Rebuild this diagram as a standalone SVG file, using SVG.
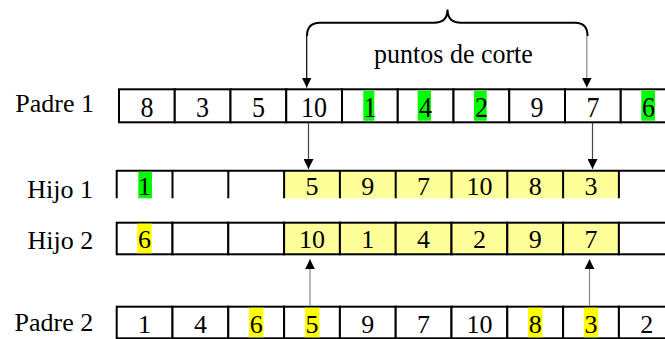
<svg xmlns="http://www.w3.org/2000/svg" width="665" height="339" viewBox="0 0 665 339">
<style>
.cell{fill:#fff;stroke:#000;stroke-width:2}
.pale{fill:#ffff99;stroke:#000;stroke-width:2}
.num{font-family:"Liberation Serif",serif;font-size:26px;text-anchor:middle;fill:#000}
.lbl{font-family:"Liberation Serif",serif;font-size:26px;text-anchor:end;fill:#000}
.g{fill:#00ff00}
.y{fill:#ffff00}
.conn{fill:none;stroke-width:1.2}
</style>
<defs>
<marker id="ah" viewBox="0 0 10 10" refX="10" refY="5" markerWidth="10" markerHeight="10" markerUnits="userSpaceOnUse" orient="auto">
<path d="M0,0 L10,5 L0,10 z" fill="#000"/>
</marker>
</defs>
<rect width="665" height="339" fill="#fff"/>

<g id="brace">
<path d="M307,36 Q307,22.7 320,22.7 L434,22.7 Q447.5,22.7 447.5,9.5 Q447.5,22.7 461,22.7 L575,22.7 Q587.5,22.7 587.5,36" fill="none" stroke="#000" stroke-width="2"/>
<text class="num" transform="translate(453.5,63) scale(1,1.08)">puntos de corte</text>
</g>

<g id="padre1">
<text class="lbl" x="94" y="111.7">Padre 1</text>
<rect class="cell" x="119" y="89.3" width="55.75" height="33"/>
<rect class="cell" x="174.75" y="89.3" width="55.75" height="33"/>
<rect class="cell" x="230.5" y="89.3" width="55.75" height="33"/>
<rect class="cell" x="286.25" y="89.3" width="55.75" height="33"/>
<rect class="cell" x="342" y="89.3" width="55.75" height="33"/>
<rect class="cell" x="397.75" y="89.3" width="55.75" height="33"/>
<rect class="cell" x="453.5" y="89.3" width="55.75" height="33"/>
<rect class="cell" x="509.25" y="89.3" width="55.75" height="33"/>
<rect class="cell" x="565" y="89.3" width="55.75" height="33"/>
<rect class="cell" x="620.75" y="89.3" width="55.75" height="33"/>
<rect class="g" x="363.3" y="90.7" width="11" height="30"/>
<rect class="g" x="417.7" y="90.7" width="13.3" height="30"/>
<rect class="g" x="474" y="90.7" width="12.7" height="30"/>
<rect class="g" x="641.3" y="90.7" width="13.7" height="30"/>
<g transform="translate(0,116.5) scale(1,1.17)">
<text class="num" x="146.9" y="0">8</text>
<text class="num" x="202.6" y="0">3</text>
<text class="num" x="258.4" y="0">5</text>
<text class="num" x="314.1" y="0">10</text>
<text class="num" x="369.9" y="0">1</text>
<text class="num" x="425.6" y="0">4</text>
<text class="num" x="481.4" y="0">2</text>
<text class="num" x="537.1" y="0">9</text>
<text class="num" x="592.9" y="0">7</text>
<text class="num" x="648.6" y="0">6</text>
</g>
</g>

<g id="hijo1">
<text class="lbl" x="93" y="197.7">Hijo 1</text>
<rect x="284.1" y="171.7" width="334.8" height="26.6" fill="#ffff99"/>
<path d="M116.7,170.7 L680,170.7 M116.7,170 V198.3 M172.5,170 V198.3 M228.3,170 V198.3 M284.1,170 V198.3 M339.9,170 V198.3 M395.7,170 V198.3 M451.5,170 V198.3 M507.3,170 V198.3 M563.1,170 V198.3 M618.9,170 V198.3" fill="none" stroke="#000" stroke-width="2"/>
<rect class="g" x="138.3" y="171.7" width="13.7" height="26.6"/>
<text class="num" x="144.6" y="195">1</text>
<text class="num" x="312" y="195">5</text>
<text class="num" x="367.8" y="195">9</text>
<text class="num" x="423.6" y="195">7</text>
<text class="num" x="479.4" y="195">10</text>
<text class="num" x="535.2" y="195">8</text>
<text class="num" x="591" y="195">3</text>
</g>

<g id="hijo2">
<text class="lbl" x="93.3" y="249.3">Hijo 2</text>
<rect class="cell" x="116.7" y="222.7" width="55.8" height="31.6"/>
<rect class="cell" x="172.5" y="222.7" width="55.8" height="31.6"/>
<rect class="cell" x="228.3" y="222.7" width="55.8" height="31.6"/>
<rect class="pale" x="284.1" y="222.7" width="55.8" height="31.6"/>
<rect class="pale" x="339.9" y="222.7" width="55.8" height="31.6"/>
<rect class="pale" x="395.7" y="222.7" width="55.8" height="31.6"/>
<rect class="pale" x="451.5" y="222.7" width="55.8" height="31.6"/>
<rect class="pale" x="507.3" y="222.7" width="55.8" height="31.6"/>
<rect class="pale" x="563.1" y="222.7" width="55.8" height="31.6"/>
<rect class="cell" x="618.9" y="222.7" width="55.8" height="31.6"/>
<rect class="y" x="137.3" y="223.7" width="14.4" height="29.6"/>
<text class="num" x="144.6" y="248">6</text>
<text class="num" x="312" y="248">10</text>
<text class="num" x="367.8" y="248">1</text>
<text class="num" x="423.6" y="248">4</text>
<text class="num" x="479.4" y="248">2</text>
<text class="num" x="535.2" y="248">9</text>
<text class="num" x="591" y="248">7</text>
</g>

<g id="padre2">
<text class="lbl" x="93.3" y="330.7">Padre 2</text>
<rect class="cell" x="116.7" y="306.7" width="55.8" height="31.6"/>
<rect class="cell" x="172.5" y="306.7" width="55.8" height="31.6"/>
<rect class="cell" x="228.3" y="306.7" width="55.8" height="31.6"/>
<rect class="cell" x="284.1" y="306.7" width="55.8" height="31.6"/>
<rect class="cell" x="339.9" y="306.7" width="55.8" height="31.6"/>
<rect class="cell" x="395.7" y="306.7" width="55.8" height="31.6"/>
<rect class="cell" x="451.5" y="306.7" width="55.8" height="31.6"/>
<rect class="cell" x="507.3" y="306.7" width="55.8" height="31.6"/>
<rect class="cell" x="563.1" y="306.7" width="55.8" height="31.6"/>
<rect class="cell" x="618.9" y="306.7" width="55.8" height="31.6"/>
<rect class="y" x="249" y="307.7" width="14.4" height="29.6"/>
<rect class="y" x="305" y="307.7" width="14.4" height="29.6"/>
<rect class="y" x="528" y="307.7" width="14.4" height="29.6"/>
<rect class="y" x="583.8" y="307.7" width="14.4" height="29.6"/>
<text class="num" x="144.6" y="333.3">1</text>
<text class="num" x="200.4" y="333.3">4</text>
<text class="num" x="256.2" y="333.3">6</text>
<text class="num" x="312" y="333.3">5</text>
<text class="num" x="367.8" y="333.3">9</text>
<text class="num" x="423.6" y="333.3">7</text>
<text class="num" x="479.4" y="333.3">10</text>
<text class="num" x="535.2" y="333.3">8</text>
<text class="num" x="591" y="333.3">3</text>
<text class="num" x="646.8" y="333.3">2</text>
</g>

<g id="connectors">
<line class="conn" x1="306.7" y1="36" x2="306.7" y2="87.5" stroke="#000" marker-end="url(#ah)"/>
<line class="conn" x1="586.8" y1="36" x2="586.8" y2="87.5" stroke="#888" marker-end="url(#ah)"/>
<line class="conn" x1="308.5" y1="123" x2="308.5" y2="169" stroke="#444" marker-end="url(#ah)"/>
<line class="conn" x1="592.5" y1="123" x2="592.5" y2="169" stroke="#444" marker-end="url(#ah)"/>
<line class="conn" x1="310" y1="305.5" x2="310" y2="259.3" stroke="#888" marker-end="url(#ah)"/>
<line class="conn" x1="589.5" y1="305.5" x2="589.5" y2="259.3" stroke="#888" marker-end="url(#ah)"/>
</g>
</svg>
